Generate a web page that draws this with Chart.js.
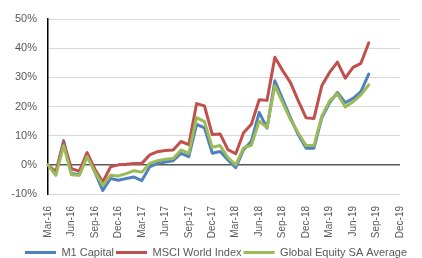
<!DOCTYPE html>
<html>
<head>
<meta charset="utf-8">
<script src="https://cdn.jsdelivr.net/npm/chart.js@4.4.1/dist/chart.umd.min.js"></script>
<style>
  html, body { margin: 0; padding: 0; background: #fff; }
  canvas { display: block; }
</style>
</head>
<body>
<canvas id="perfChart" width="422" height="258"></canvas>
<script>
// Monthly categories, Mar-16 .. Dec-19 (only every 3rd one gets a label)
const months = [
    'Mar-16', 'Apr-16', 'May-16', 'Jun-16', 'Jul-16', 'Aug-16', 'Sep-16', 'Oct-16', 'Nov-16', 'Dec-16',
    'Jan-17', 'Feb-17', 'Mar-17', 'Apr-17', 'May-17', 'Jun-17', 'Jul-17', 'Aug-17', 'Sep-17', 'Oct-17', 'Nov-17', 'Dec-17',
    'Jan-18', 'Feb-18', 'Mar-18', 'Apr-18', 'May-18', 'Jun-18', 'Jul-18', 'Aug-18', 'Sep-18', 'Oct-18', 'Nov-18', 'Dec-18',
    'Jan-19', 'Feb-19', 'Mar-19', 'Apr-19', 'May-19', 'Jun-19', 'Jul-19', 'Aug-19', 'Sep-19', 'Oct-19', 'Nov-19', 'Dec-19'
];

// Cumulative return in %
const m1Capital = [0, -3, 8.3, -3, -3.4, 3.4, -2.5, -8.8, -4.7, -5.3, -4.7, -4.2, -5.4, -0.7, 0.5, 1, 1.4, 3.9, 2.8, 13.9, 12.7,
    4, 4.6, 1.7, -1, 5.2, 8.1, 18, 12.6, 28.8, 22.5, 16.1, 10.3, 5.7, 5.7, 16.1, 21.3, 24.8, 21.3, 22.8, 25.1, 31.1];
const msciWorld = [0, -2.4, 7.7, -1.3, -2.2, 4.2, -1.5, -5.9, -0.7, 0, 0.2, 0.5, 0.5, 3.4, 4.5, 4.9, 5.1, 8, 6.9, 21, 20.2,
    10.4, 10.6, 5.2, 3.8, 11, 13.9, 22.3, 22.1, 36.9, 32.3, 28.2, 21.9, 16.1, 15.9, 27.1, 31.7, 35.2, 29.7, 33.4, 34.8, 41.8];
const globalEquity = [0, -3.6, 6.6, -3.4, -3.6, 2.8, -2.5, -7, -3.6, -3.8, -3, -2, -2.5, 0.5, 1.4, 1.9, 2.2, 5.1, 3.9, 16.2, 14.8,
    6, 6.6, 2.5, 0, 5.8, 6.7, 15, 12.8, 27.1, 21.3, 15.5, 10.9, 6.6, 6.6, 16.7, 21.9, 24.4, 19.8, 21.6, 24, 27.4];

const yTicks = [-10, 0, 10, 20, 30, 40, 50];

const textColor = '#595959';
const fontFamily = '"Liberation Sans", Arial, sans-serif';

// nudge the legend a bit to the right, like the original
const legendShift = {
    id: 'legendShift',
    afterLayout(chart) {
        chart.legend.left += 5;
        chart.legend.right += 5;
    }
};

const ctx = document.getElementById('perfChart').getContext('2d');

new Chart(ctx, {
    type: 'line',
    data: {
        labels: months,
        datasets: [
            { label: 'M1 Capital', data: m1Capital, borderColor: '#4F81BD', backgroundColor: '#4F81BD', order: 2 },
            { label: 'MSCI World Index', data: msciWorld, borderColor: '#C0504D', backgroundColor: '#C0504D', order: 1 },
            { label: 'Global Equity SA Average', data: globalEquity, borderColor: '#9BBB59', backgroundColor: '#9BBB59', order: 0 }
        ]
    },
    plugins: [legendShift],
    options: {
        responsive: false,
        animation: false,
        // negative bottom padding pushes the legend down to the canvas edge
        layout: { padding: { top: 19, left: 0, right: 0, bottom: -10 } },
        elements: {
            line: { borderWidth: 3, tension: 0, borderJoinStyle: 'round', borderCapStyle: 'round' },
            point: { radius: 0, hoverRadius: 0 }
        },
        plugins: {
            tooltip: { enabled: false },
            legend: {
                position: 'bottom',
                labels: {
                    usePointStyle: true,
                    pointStyleWidth: 31,
                    padding: 2,
                    color: textColor,
                    font: { family: fontFamily, size: 11 },
                    // plain line samples in the series colours, in dataset order
                    generateLabels: chart => chart.data.datasets.map((ds, i) => ({
                        text: ds.label,
                        strokeStyle: ds.borderColor,
                        fillStyle: ds.borderColor,
                        lineWidth: 3,
                        pointStyle: 'line',
                        hidden: false,
                        datasetIndex: i,
                        fontColor: textColor
                    }))
                }
            }
        },
        scales: {
            x: {
                grid: { display: false },
                border: { display: false },
                ticks: {
                    autoSkip: false,
                    minRotation: 90,
                    maxRotation: 90,
                    padding: 4,
                    color: textColor,
                    font: { family: fontFamily, size: 10 },
                    callback: function (value, index) {
                        return index % 3 === 0 ? months[index] : '';
                    }
                },
                afterFit: scale => { scale.height = 51; }
            },
            y: {
                min: -10,
                max: 50,
                afterBuildTicks: scale => { scale.ticks = yTicks.map(v => ({ value: v })); },
                grid: {
                    drawTicks: false,
                    color: c => (c.tick && c.tick.value === 0 ? '#595959' : '#d9d9d9'),
                    lineWidth: c => (c.tick && c.tick.value === 0 ? 1.5 : 1)
                },
                border: { display: true, color: '#000', width: 1.5 },
                ticks: {
                    padding: 11,
                    color: textColor,
                    font: { family: fontFamily, size: 11 },
                    callback: v => v + '%'
                },
                afterFit: scale => { scale.width = 48; }
            },
            // empty axis on the right, only to leave the gap after the plot area
            yRight: {
                position: 'right',
                display: true,
                grid: { display: false },
                border: { display: false },
                ticks: { display: false },
                afterFit: scale => { scale.width = 22; }
            }
        }
    }
});
</script>
</body>
</html>
